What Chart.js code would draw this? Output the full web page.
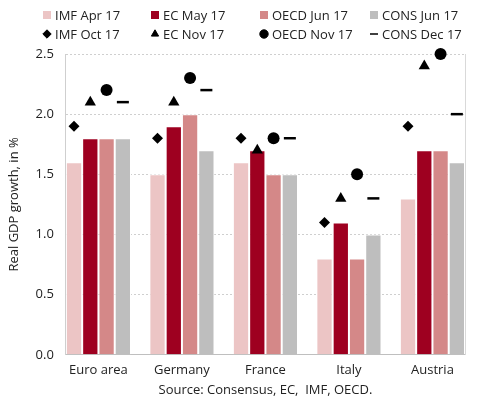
<!DOCTYPE html>
<html>
<head>
<meta charset="utf-8">
<script src="https://cdn.jsdelivr.net/npm/chart.js@4/dist/chart.umd.min.js"></script>
<style>
  html, body { margin: 0; padding: 0; background: #fff; }
</style>
</head>
<body>
<canvas id="gdp" width="490" height="399"></canvas>
<script>
// categories and tick labels
const countries = ["Euro area", "Germany", "France", "Italy", "Austria"];
const yTicks = [0, 0.5, 1, 1.5, 2, 2.5];

// spring forecasts (bars)
const imfApr = [1.6, 1.5, 1.6, 0.8, 1.3];
const ecMay = [1.8, 1.9, 1.7, 1.1, 1.7];
const oecdJun = [1.8, 2.0, 1.5, 0.8, 1.7];
const consJun = [1.8, 1.7, 1.5, 1.0, 1.6];

// autumn forecasts (markers)
const imfOct = [1.9, 1.8, 1.8, 1.1, 1.9];
const ecNov = [2.1, 2.1, 1.7, 1.3, 2.4];
const oecdNov = [2.2, 2.3, 1.8, 1.5, 2.5];
const consDec = [2.1, 2.2, 1.8, 1.3, 2.0];

const FONT = '"Open Sans", sans-serif';
const catPct = 0.78;
const nBars = 4;

Chart.defaults.font.family = FONT;
Chart.defaults.font.size = 13;
Chart.defaults.color = "#222";

const toPoints = (arr, slot) =>
  arr.map((v, i) => ({ x: i + (slot + 0.5 - nBars / 2) * catPct / nBars, y: v }));

const barSet = (label, arr, color) => ({
  type: "bar",
  label,
  data: arr.map((v, i) => ({ x: i, y: v })),
  backgroundColor: color,
  borderColor: "#fff",
  borderWidth: 1,
  borderSkipped: "start",
  categoryPercentage: catPct,
  barPercentage: 1,
  order: 2,
});

const markerSet = (label, arr, slot, style, radius, bw) => ({
  type: "line",
  label,
  data: toPoints(arr, slot),
  showLine: false,
  clip: false,
  pointStyle: style,
  pointRadius: radius,
  pointHoverRadius: radius,
  pointBackgroundColor: "#000",
  pointBorderColor: "#000",
  pointBorderWidth: bw,
  order: 1,
});

// legend laid out in a 4 x 2 grid like the original
const gridLegend = {
  id: "gridLegend",
  afterDraw(chart, args, opts) {
    const ctx = chart.ctx;
    ctx.save();
    ctx.font = "13px " + FONT;
    ctx.textBaseline = "middle";
    chart.data.datasets.forEach((ds, i) => {
      const col = i % 4, row = Math.floor(i / 4);
      const cx = opts.colX[col], cy = opts.rowY[row];
      if (ds.type === "bar") {
        ctx.fillStyle = ds.backgroundColor;
        ctx.fillRect(cx - 4, cy - 4, 8, 8);
      } else {
        ctx.fillStyle = "#000";
        ctx.strokeStyle = "#000";
        ctx.lineWidth = ds.pointStyle === "line" ? 1.5 : 1;
        Chart.helpers.drawPoint(ctx, {
          pointStyle: ds.pointStyle,
          rotation: 0,
          radius: ds.pointStyle === "line" ? 4 : 4.2,
          borderWidth: ds.pointStyle === "line" ? 1.5 : 0.5,
        }, cx, cy);
      }
      ctx.fillStyle = "#222";
      ctx.fillText(ds.label, cx + 8, cy + 1);
    });
    ctx.restore();
  },
};

new Chart(document.getElementById("gdp"), {
  data: {
    datasets: [
      barSet("IMF Apr 17", imfApr, "#ECC5C5"),
      barSet("EC May 17", ecMay, "#9E0020"),
      barSet("OECD Jun 17", oecdJun, "#D48888"),
      barSet("CONS Jun 17", consJun, "#BEBEBE"),
      markerSet("IMF Oct 17", imfOct, 0, "rectRot", 5.5, 0),
      markerSet("EC Nov 17", ecNov, 1, "triangle", 6.5, 0),
      markerSet("OECD Nov 17", oecdNov, 2, "circle", 6, 0),
      markerSet("CONS Dec 17", consDec, 3, "line", 6, 2.5),
    ],
  },
  plugins: [gridLegend],
  options: {
    responsive: false,
    animation: false,
    devicePixelRatio: 1,
    layout: { padding: { top: 54, right: 25, left: 6, bottom: 1 } },
    plugins: {
      legend: { display: false },
      tooltip: { enabled: false },
      gridLegend: { colX: [47, 155, 264, 374], rowY: [15, 34] },
    },
    scales: {
      x: {
        type: "linear",
        min: -catPct / 2,
        max: countries.length - 1 + catPct / 2,
        offset: false,
        afterBuildTicks: (axis) => { axis.ticks = countries.map((c, i) => ({ value: i })); },
        ticks: {
          callback: (v) => countries[v],
          autoSkip: false,
          maxRotation: 0,
          padding: 8,
        },
        grid: { display: false, drawTicks: false },
        border: { color: "#BFBFBF", width: 1 },
        title: {
          display: true,
          text: "Source: Consensus, EC,  IMF, OECD.",
          padding: { top: -4, bottom: 0 },
        },
      },
      y: {
        min: 0,
        max: 2.5,
        afterBuildTicks: (axis) => { axis.ticks = yTicks.map((v) => ({ value: v })); },
        ticks: { callback: (v) => v.toFixed(1), padding: 12 },
        grid: { color: "#CFCFCF", drawTicks: false },
        border: { color: "#CFCFCF", dash: [2, 2] },
        title: {
          display: true,
          text: "Real GDP growth, in %",
          padding: { top: 0, bottom: 2 },
        },
      },
      y2: {
        position: "right",
        display: true,
        min: 0,
        max: 2.5,
        ticks: { display: false },
        grid: { display: false, drawTicks: false },
        border: { color: "#D9D9D9" },
      },
    },
  },
});
</script>
</body>
</html>
